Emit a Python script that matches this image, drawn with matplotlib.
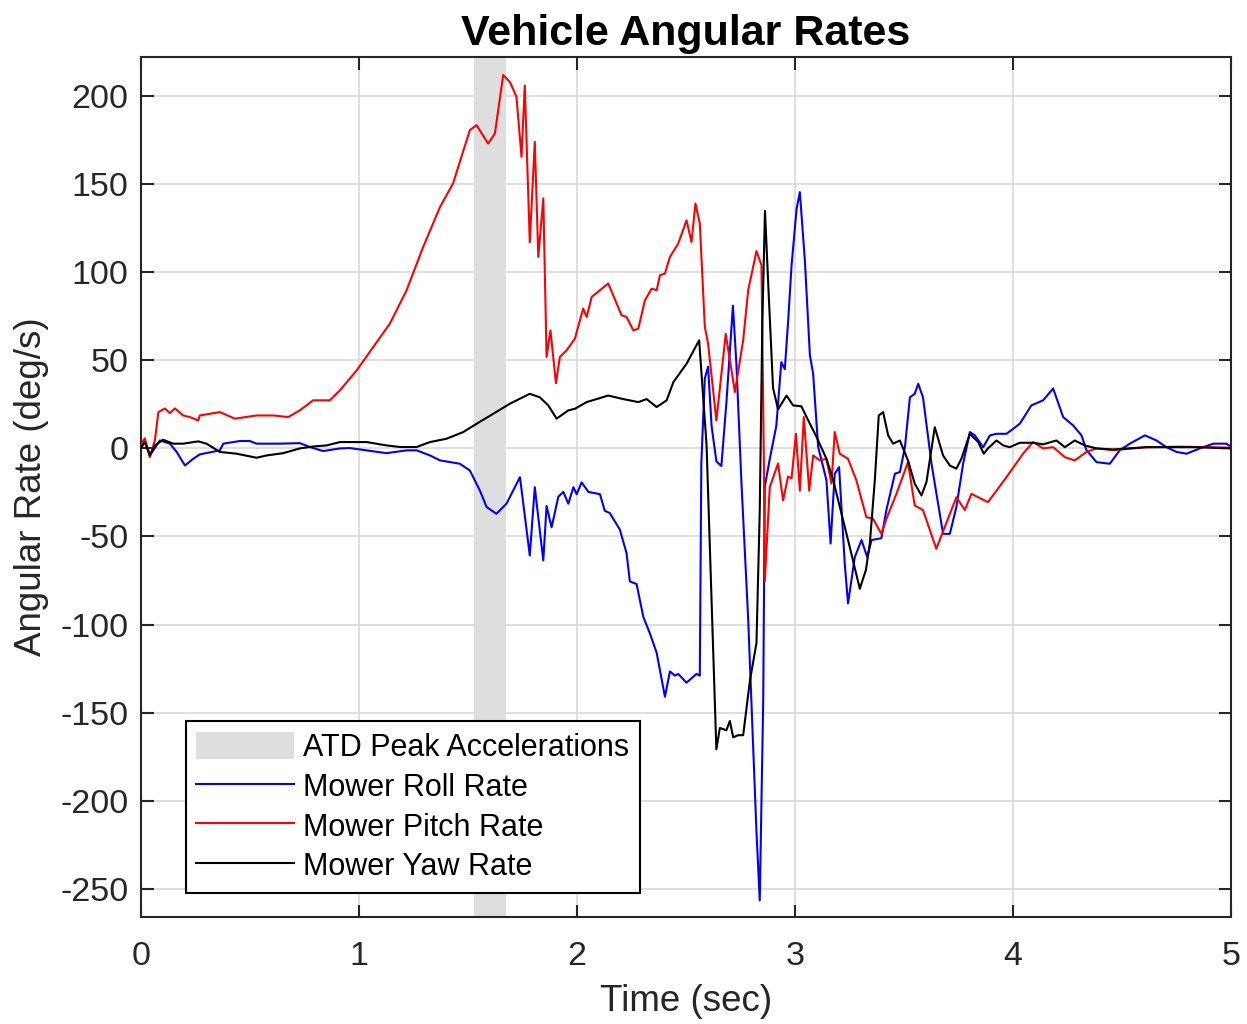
import matplotlib
matplotlib.use("Agg")
import matplotlib.pyplot as plt
from matplotlib.patches import Patch
from matplotlib.lines import Line2D
import numpy as np

plt.rcParams['font.family'] = ['Liberation Sans', 'DejaVu Sans']
plt.rcParams['axes.unicode_minus'] = False

# ATD peak acceleration window (s)
atd_window = [1.53, 1.675]

# Mower pitch rate (deg/s)
pitch_t = [0.003, 0.018, 0.041, 0.064, 0.08, 0.11, 0.133, 0.156, 0.194, 0.224, 0.263, 0.27,
           0.362, 0.431, 0.531, 0.608, 0.676, 0.729, 0.79, 0.867, 0.913, 0.99, 1.066, 1.142,
           1.219, 1.295, 1.372, 1.432, 1.509, 1.54, 1.593, 1.624, 1.662, 1.693, 1.723, 1.746,
           1.761, 1.784, 1.807, 1.823, 1.846, 1.861, 1.879, 1.904, 1.922, 1.953, 1.991, 2.029,
           2.045, 2.068, 2.144, 2.205, 2.228, 2.259, 2.282, 2.312, 2.343, 2.366, 2.381, 2.404,
           2.427, 2.465, 2.503, 2.526, 2.544, 2.564, 2.587, 2.602, 2.64, 2.683, 2.725, 2.763,
           2.786, 2.824, 2.847, 2.858, 2.862, 2.885, 2.923, 2.946, 2.969, 2.985, 3.005, 3.023,
           3.041, 3.066, 3.084, 3.115, 3.145, 3.168, 3.183, 3.206, 3.244, 3.282, 3.328, 3.359,
           3.397, 3.42, 3.466, 3.519, 3.55, 3.588, 3.649, 3.741, 3.78, 3.81, 3.886, 3.971,
           4.047, 4.093, 4.139, 4.185, 4.239, 4.284, 4.338, 4.384, 4.46, 4.613, 4.77, 5.0]
pitch_v = [2.8, 5.7, -5, 4.5, 20.6, 22.7, 20, 22.7, 18.7, 17.8, 15.9, 18.7,
           20.6, 16.9, 18.7, 18.7, 17.8, 21.6, 27.3, 27.3, 33, 44.3, 57.6, 70.8,
           89.8, 114.4, 137, 150.4, 180.7, 183.5, 173, 178.8, 212, 208, 199.6, 165.5,
           206, 117, 174, 108.7, 141.9, 51.9, 67, 37, 51.9, 55.7, 62.3, 79.4,
           74.6, 86, 93.6, 75.6, 74.6, 67, 68, 84, 90.7, 89.8, 98.3, 99.3,
           108.7, 116.3, 129.5, 117.2, 139, 127.7, 69, 59.5, 15.9, 65, 32, 61.4,
           89.8, 112, 104, -8.5, -75.5, -22, -8.5, -29.5, -16, -17, 8.3, -24,
           17.8, -24, -4, -6.8, -5.9, -20, 9.3, -3, -5.9, -18, -39, -40,
           -48.5, -40, -25.8, -7.8, -32.4, -35, -57, -27.7, -35, -25.8, -30.5, -16.3,
           -3, 3.6, 0, 0.7, -5, -6.8, -2, 0, -1, 0.7, 1, 0.4]

# Mower roll rate (deg/s)
roll_t = [0.003, 0.018, 0.041, 0.087, 0.133, 0.164, 0.202, 0.24, 0.27, 0.362, 0.378, 0.454,
          0.5, 0.53, 0.638, 0.729, 0.775, 0.836, 0.913, 0.959, 1.035, 1.127, 1.219, 1.265,
          1.326, 1.372, 1.463, 1.509, 1.555, 1.586, 1.631, 1.677, 1.739, 1.784, 1.807, 1.846,
          1.861, 1.884, 1.915, 1.938, 1.961, 1.984, 1.999, 2.022, 2.053, 2.106, 2.128, 2.151,
          2.197, 2.228, 2.243, 2.274, 2.305, 2.335, 2.366, 2.404, 2.427, 2.45, 2.465, 2.503,
          2.549, 2.564, 2.571, 2.587, 2.602, 2.618, 2.64, 2.663, 2.686, 2.716, 2.732, 2.755,
          2.786, 2.824, 2.839, 2.855, 2.862, 2.885, 2.915, 2.938, 2.954, 2.969, 2.985, 3.008,
          3.023, 3.046, 3.069, 3.084, 3.107, 3.145, 3.164, 3.183, 3.203, 3.229, 3.244, 3.275,
          3.306, 3.332, 3.352, 3.397, 3.42, 3.459, 3.482, 3.505, 3.528, 3.55, 3.566, 3.588,
          3.627, 3.68, 3.711, 3.741, 3.772, 3.803, 3.826, 3.864, 3.895, 3.925, 3.971, 4.032,
          4.085, 4.139, 4.185, 4.231, 4.277, 4.315, 4.338, 4.384, 4.445, 4.491, 4.537, 4.606,
          4.659, 4.705, 4.751, 4.797, 4.858, 4.92, 4.98, 5.0]
roll_v = [1.7, 4.5, -4, 4.5, 2.7, -2, -9.7, -5.9, -3.4, -1.1, 2.7, 4.2,
          4.2, 2.7, 2.7, 3, 0.8, -1.5, 0, 0.2, -1.1, -2.7, -1.1, -1.1,
          -4, -6.8, -8.7, -12.5, -23.9, -33.3, -37.1, -31.4, -16.3, -60.8, -22, -63.6,
          -32.7, -44.8, -27.4, -24.7, -31.4, -22, -26, -19.3, -24.7, -26, -35.4, -36.7,
          -46, -59.5, -75.5, -77, -95.7, -105, -116, -141, -126.6, -129, -128, -133,
          -128, -129, -8.5, 39.7, 46.4, 12.8, -7.3, -10, 26, 81, 47.7, -19.3,
          -97, -217.7, -256.6, -142.6, -22, -6, 12.8, 49, 45, 71.8, 104, 136,
          145.5, 106.7, 53, 42.3, 0.8, -18, -54, -14.4, -10.6, -65.5, -88, -61.7,
          -52, -61.7, -52, -51, -35, -14.4, -13.4, 0.7, 29, 31, 36.7, 29,
          -8.7, -48.5, -48.5, -33.3, -8.7, 9.3, 7.4, 0.7, 7.4, 8.3, 8.3, 14,
          24.4, 27.3, 34, 17.8, 13, 7.4, -1, -7.8, -8.7, -1, 2.7, 7.4,
          4.5, 0.7, -2, -3, 0, 2.7, 2.7, 1]

# Mower yaw rate (deg/s)
yaw_t = [0.003, 0.018, 0.041, 0.064, 0.102, 0.148, 0.194, 0.263, 0.301, 0.362, 0.439, 0.531,
         0.576, 0.653, 0.729, 0.79, 0.852, 0.913, 1.035, 1.127, 1.188, 1.265, 1.326, 1.402,
         1.479, 1.54, 1.617, 1.693, 1.784, 1.83, 1.869, 1.907, 1.961, 1.991, 2.045, 2.144,
         2.213, 2.282, 2.32, 2.366, 2.412, 2.443, 2.503, 2.561, 2.595, 2.64, 2.656, 2.686,
         2.702, 2.717, 2.74, 2.763, 2.794, 2.824, 2.839, 2.851, 2.863, 2.881, 2.9, 2.923,
         2.962, 2.992, 3.03, 3.054, 3.1, 3.145, 3.176, 3.206, 3.252, 3.298, 3.326, 3.344,
         3.367, 3.385, 3.405, 3.428, 3.451, 3.482, 3.519, 3.55, 3.581, 3.604, 3.642, 3.68,
         3.711, 3.741, 3.764, 3.803, 3.841, 3.867, 3.886, 3.925, 3.956, 3.986, 4.032, 4.093,
         4.139, 4.2, 4.239, 4.284, 4.33, 4.384, 4.46, 4.613, 4.843, 5.0]
yaw_v = [0.7, 3.6, -4, 1.7, 4.9, 2.7, 2.7, 4, 2.7, -2, -3, -5.3,
         -4, -2.7, 0, 1.1, 1.7, 3.6, 3.6, 1.7, 0.8, 0.8, 3.6, 5.5,
         9.3, 14, 19.7, 25.4, 31, 29, 24.4, 16.9, 21.6, 22.5, 26.3, 30,
         28, 26.3, 28, 23.5, 27.3, 37.7, 48, 61.4, 2, -170.8, -158.7, -160,
         -154.7, -164, -162.8, -162.8, -131.8, -110.5, -35.4, 71.8, 134.8, 85, 34.3, 22.2,
         30, 24.4, 23.9, 17.8, 6.4, -5.9, -18, -33, -56, -79.7, -69, -54,
         -18, 18.7, 20.6, 7.4, 2.7, 4.5, -6.8, -20, -26.7, -19, 12, -4,
         -9.7, -11.5, -5.9, 8.3, 3.6, -3, 0, 4.5, 1.7, 0.7, 3.2, 3.2,
         2.3, 4.5, 0.7, 4.5, 1.7, 0, -0.6, 0.7, 0.7, 0]

x_ticks = [0, 1, 2, 3, 4, 5]
y_ticks = [-250, -200, -150, -100, -50, 0, 50, 100, 150, 200]

band_color = '#dedede'
text_color = '#262626'

fig = plt.figure(figsize=(12.47, 10.24), dpi=100)
ax = fig.add_axes([0.113, 0.1045, 0.874, 0.8395])

ax.axvspan(atd_window[0], atd_window[1], color=band_color, lw=0, zorder=1)
ax.plot(roll_t, roll_v, color='#0000ff', lw=1.5, zorder=3)
ax.plot(pitch_t, pitch_v, color='#ff0000', lw=1.5, zorder=3)
ax.plot(yaw_t, yaw_v, color='black', lw=1.5, zorder=4)

ax.set_xlim(0, 5)
ax.set_ylim(-266, 222)
ax.set_xticks(x_ticks)
ax.set_yticks(y_ticks)
ax.grid(True, color='#d9d9d9', lw=1.2, zorder=0)
ax.set_axisbelow(True)
ax.tick_params(direction='in', length=9, width=1.5, top=True, right=True,
               labelsize=24.5, color=text_color, labelcolor=text_color)
ax.tick_params(axis='x', pad=17)
ax.tick_params(axis='y', pad=9)
for s in ax.spines.values():
    s.set_linewidth(1.5)
    s.set_color(text_color)

ax.set_title('Vehicle Angular Rates', fontsize=31, fontweight='bold', pad=9)
ax.set_xlabel('Time (sec)', fontsize=26.5, labelpad=9, color=text_color)
ax.set_ylabel('Angular Rate (deg/s)', fontsize=26.5, labelpad=8, color=text_color)

handles = [Patch(facecolor=band_color, edgecolor='none'),
           Line2D([], [], color='#0000ff', lw=1.5),
           Line2D([], [], color='#ff0000', lw=1.5),
           Line2D([], [], color='black', lw=1.5)]
labels = ['ATD Peak Accelerations', 'Mower Roll Rate', 'Mower Pitch Rate', 'Mower Yaw Rate']
leg = ax.legend(handles, labels, loc='lower left', bbox_to_anchor=(0.041, 0.028),
                fontsize=22, frameon=True, fancybox=False, edgecolor='black',
                framealpha=1, handlelength=3.2, handleheight=1.0, handletextpad=0.3,
                labelspacing=0.28, borderpad=0.35, borderaxespad=0)
leg.get_frame().set_linewidth(1.5)

fig.savefig('out.png', dpi=100, facecolor='white')
